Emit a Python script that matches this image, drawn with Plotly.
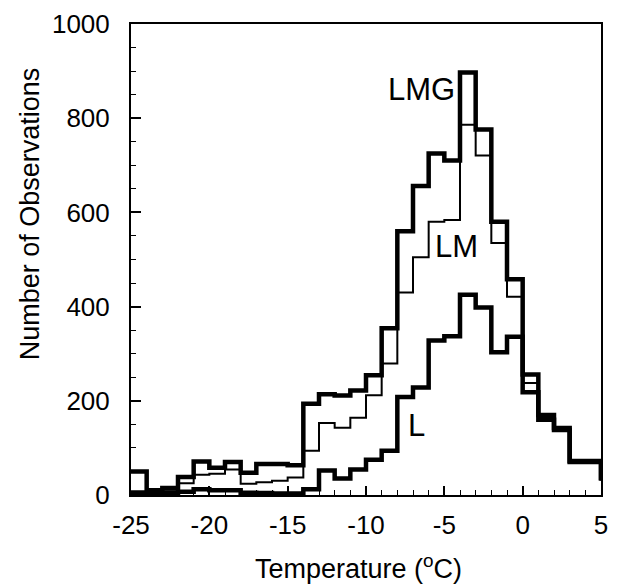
import plotly.graph_objects as go

# Bin left edges (°C); last entry is the bin just past the axis end
temps = [-25, -24, -23, -22, -21, -20, -19, -18, -17, -16, -15, -14, -13, -12, -11,
         -10, -9, -8, -7, -6, -5, -4, -3, -2, -1, 0, 1, 2, 3, 4, 5]

lmg = [50, 10, 15, 38, 71, 58, 70, 47, 66, 66, 63, 194, 214, 211, 222,
       254, 354, 560, 656, 725, 710, 897, 776, 580, 458, 256, 170, 142, 72, 72, 31]
lm = [8, 5, 8, 25, 43, 45, 54, 24, 27, 30, 37, 94, 153, 143, 164,
      212, 279, 430, 505, 580, 584, 786, 721, 535, 421, 238, 165, 140, 71, 71, 31]
l_ = [2, 3, 5, 7, 12, 10, 10, 5, 4, 3, 3, 12, 52, 35, 54,
      75, 94, 208, 228, 328, 337, 425, 398, 303, 336, 218, 160, 138, 70, 70, 31]

labels = ["LMG", "LM", "L"]
label_x = [-6.45, -4.25, -6.8]
label_y = [860, 528, 147]

x_ticks = [-25, -20, -15, -10, -5, 0, 5]
x_ticktext = ["-25", "-20", "-15", "-10", "-5", "0", "5"]
y_ticks = [0, 200, 400, 600, 800, 1000]
y_ticktext = ["0", "200", "400", "600", "800", "1000"]

FONT = "Liberation Sans, Arial, sans-serif"

fig = go.Figure()
for vals, w in [(l_, 4.5), (lm, 2), (lmg, 4.5)]:
    fig.add_trace(go.Scatter(x=temps, y=vals, mode="lines", line_shape="hv",
                             line=dict(color="black", width=w), showlegend=False))

for t, xx, yy in zip(labels, label_x, label_y):
    fig.add_annotation(x=xx, y=yy, text=t, showarrow=False,
                       font=dict(family=FONT, size=31, color="black"))

fig.add_annotation(xref="paper", yref="paper", x=0.484, y=-0.153, text="Temperature (<sup>o</sup>C)",
                   showarrow=False, font=dict(family=FONT, size=27, color="black"),
                   xanchor="center", yanchor="middle")
fig.add_annotation(xref="paper", yref="paper", x=-0.216, y=0.597, text="Number of Observations",
                   textangle=-90, showarrow=False, font=dict(family=FONT, size=27, color="black"),
                   xanchor="center", yanchor="middle")

fig.update_xaxes(range=[-25, 5], tickvals=x_ticks, ticktext=x_ticktext, ticks="inside", ticklen=9,
                 tickwidth=1.5, tickcolor="black", showgrid=False, zeroline=False, showline=True,
                 linecolor="black", linewidth=2, mirror=True, ticklabelstandoff=6,
                 tickfont=dict(family=FONT, size=26, color="black"),
                 minor=dict(dtick=1, ticks="inside", ticklen=5, tickwidth=1, tickcolor="black"))
fig.update_yaxes(range=[0, 1000], tickvals=y_ticks, ticktext=y_ticktext, ticks="inside", ticklen=10,
                 tickwidth=1.5, tickcolor="black", showgrid=False, zeroline=False, showline=True,
                 linecolor="black", linewidth=2, mirror=True, ticklabelstandoff=14,
                 tickfont=dict(family=FONT, size=26, color="black"),
                 minor=dict(dtick=50, ticks="inside", ticklen=5, tickwidth=1, tickcolor="black"))

fig.update_layout(width=617, height=588, margin=dict(l=131, r=9, t=18, b=93),
                  plot_bgcolor="white", paper_bgcolor="white")

fig.write_html("out.html")
